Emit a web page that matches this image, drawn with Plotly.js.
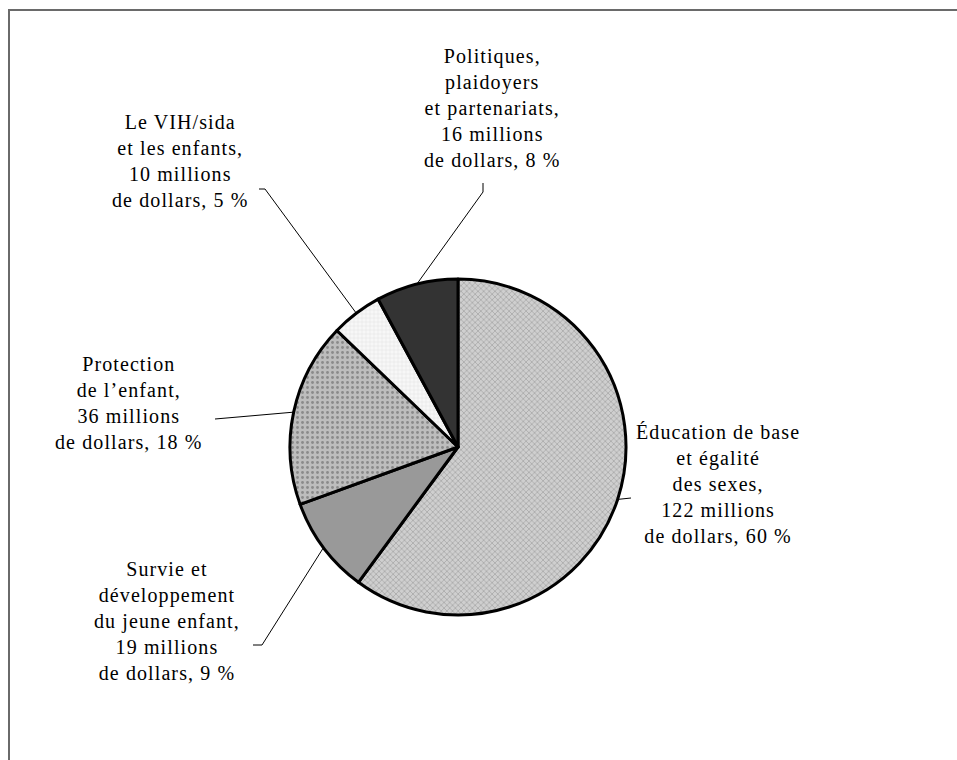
<!DOCTYPE html>
<html>
<head>
<meta charset="utf-8">
<script src="https://cdn.plot.ly/plotly-3.0.1.min.js"></script>
<style>
html,body{margin:0;padding:0;background:#fff;}
#chart{width:957px;height:760px;}
.annotation-text{letter-spacing:1.1px;}
</style>
</head>
<body>
<div id="chart"></div>
<script>
// ---- data ----
var categories = [
  "Éducation de base<br>et égalité<br>des sexes,",
  "Survie et<br>développement<br>du jeune enfant,",
  "Protection<br>de l’enfant,",
  "Le VIH/sida<br>et les enfants,",
  "Politiques,<br>plaidoyers<br>et partenariats,"
];
var valuesMillions = [122, 19, 36, 10, 16];
var percents = [60, 9, 18, 5, 8];

// ---- layout / styling ----
var W = 957, H = 760;
var cx = 458, cy = 447, R = 168;
var sliceColors = ["#c9c9c9", "#999999", "#b9b9b9", "#f4f4f4", "#333333"];
var patterns = [
  {shape: "x", bg: "#cfcfcf", fg: "#a0a0a0", size: 4, solidity: 0.3},
  {shape: "", bg: "#999999", fg: "#999999", size: 8, solidity: 0.3},
  {shape: ".", bg: "#bdbdbd", fg: "#8a8a8a", size: 5, solidity: 0.25},
  {shape: "+", bg: "#f7f7f7", fg: "#dedede", size: 4, solidity: 0.2},
  {shape: "", bg: "#333333", fg: "#333333", size: 8, solidity: 0.3}
];
var FONT = "Liberation Serif";
// label placement (px): text centre and leader-line elbow points (far end first)
var labelCenters = [[718, 484], [167, 621], [129, 403], [180, 161], [492, 108]];
var leaderEnds = [
  [[631, 498]],
  [[253, 645], [262, 645]],
  [[215, 419]],
  [[259, 189], [265, 189]],
  [[483, 183], [483, 192]]
];

function px2x(p){ return p / W; }
function py2y(p){ return 1 - p / H; }

var total = valuesMillions.reduce(function(a,b){return a+b;}, 0);
var cum = 0;
var annotations = [];
var shapes = [];
for (var i = 0; i < valuesMillions.length; i++) {
  var mid = (cum + valuesMillions[i] / 2) / total * 2 * Math.PI;
  cum += valuesMillions[i];
  var tx = cx + R * Math.sin(mid), ty = cy - R * Math.cos(mid);
  var pts = leaderEnds[i].concat([[tx, ty]]);
  var path = "";
  pts.forEach(function(p, k){
    path += (k === 0 ? "M " : " L ") + px2x(p[0]) + "," + py2y(p[1]);
  });
  shapes.push({type: "path", xref: "paper", yref: "paper", path: path,
               line: {color: "#000", width: 1}});
  annotations.push({
    xref: "paper", yref: "paper",
    x: px2x(labelCenters[i][0]), y: py2y(labelCenters[i][1]),
    xanchor: "center", yanchor: "middle", align: "center", showarrow: false,
    text: categories[i] + "<br>" + valuesMillions[i] + " millions<br>de dollars, " + percents[i] + " %",
    font: {family: FONT, size: 20, color: "#000"}
  });
}
// outer frame
shapes.push({type: "rect", xref: "paper", yref: "paper",
  x0: px2x(9), y0: py2y(10), x1: px2x(990), y1: py2y(800),
  line: {color: "#6a6a6a", width: 2}, fillcolor: "rgba(0,0,0,0)"});

var trace = {
  type: "pie",
  values: valuesMillions,
  labels: ["Éducation", "Survie", "Protection", "VIH", "Politiques"],
  sort: false,
  direction: "clockwise",
  rotation: 0,
  textinfo: "none",
  hoverinfo: "none",
  showlegend: false,
  domain: {x: [px2x(cx - R), px2x(cx + R)], y: [py2y(cy + R), py2y(cy - R)]},
  marker: {
    colors: sliceColors,
    line: {color: "#000", width: 3},
    pattern: {
      fillmode: "replace",
      shape: patterns.map(function(p){return p.shape;}),
      bgcolor: patterns.map(function(p){return p.bg;}),
      fgcolor: patterns.map(function(p){return p.fg;}),
      size: patterns.map(function(p){return p.size;}),
      solidity: patterns.map(function(p){return p.solidity;})
    }
  }
};

var layout = {
  width: W, height: H,
  margin: {l: 0, r: 0, t: 0, b: 0},
  paper_bgcolor: "#fff",
  plot_bgcolor: "#fff",
  showlegend: false,
  font: {family: FONT},
  annotations: annotations,
  shapes: shapes
};

Plotly.newPlot("chart", [trace], layout, {displayModeBar: false, staticPlot: true});
</script>
</body>
</html>
